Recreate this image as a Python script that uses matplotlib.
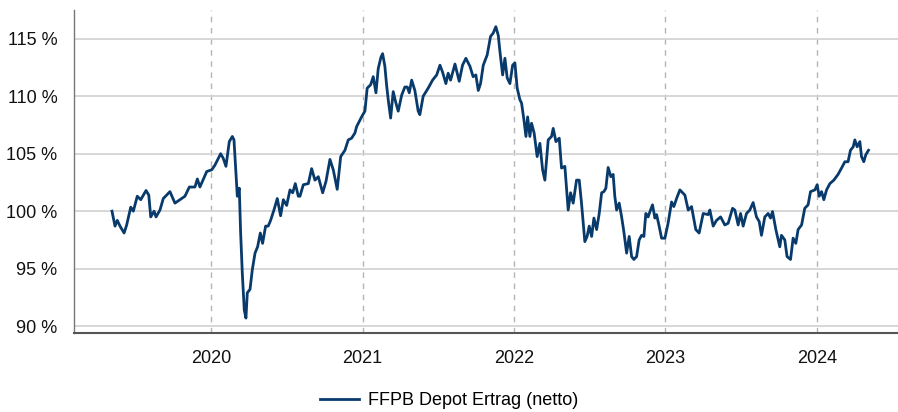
import matplotlib
matplotlib.use("Agg")
import matplotlib.pyplot as plt
import numpy as np

# Zeitachse in Dezimaljahren, Werte in %
years = [
    2019.344, 2019.364, 2019.379, 2019.397, 2019.424, 2019.441, 2019.468, 2019.485,
    2019.511, 2019.534, 2019.569, 2019.587, 2019.600, 2019.622, 2019.635, 2019.661,
    2019.683, 2019.727, 2019.760, 2019.793, 2019.826, 2019.855, 2019.892, 2019.908,
    2019.925, 2019.970, 2020.003, 2020.024, 2020.062, 2020.079, 2020.097, 2020.119,
    2020.139, 2020.150, 2020.172, 2020.185, 2020.194, 2020.205, 2020.218, 2020.229,
    2020.238, 2020.256, 2020.271, 2020.289, 2020.306, 2020.324, 2020.339, 2020.359,
    2020.376, 2020.392, 2020.414, 2020.436, 2020.458, 2020.476, 2020.498, 2020.520,
    2020.538, 2020.555, 2020.575, 2020.586, 2020.608, 2020.641, 2020.663, 2020.685,
    2020.707, 2020.736, 2020.758, 2020.784, 2020.806, 2020.832, 2020.855, 2020.883,
    2020.905, 2020.927, 2020.949, 2020.960, 2020.993, 2021.015, 2021.030, 2021.053,
    2021.070, 2021.088, 2021.103, 2021.121, 2021.132, 2021.147, 2021.158, 2021.169,
    2021.185, 2021.202, 2021.220, 2021.235, 2021.258, 2021.279, 2021.295, 2021.308,
    2021.324, 2021.345, 2021.367, 2021.378, 2021.400, 2021.433, 2021.462, 2021.489,
    2021.511, 2021.528, 2021.550, 2021.565, 2021.581, 2021.610, 2021.638, 2021.660,
    2021.682, 2021.709, 2021.730, 2021.748, 2021.764, 2021.779, 2021.797, 2021.823,
    2021.845, 2021.863, 2021.880, 2021.896, 2021.907, 2021.925, 2021.940, 2021.955,
    2021.973, 2021.991, 2022.006, 2022.021, 2022.039, 2022.050, 2022.065, 2022.079,
    2022.090, 2022.105, 2022.116, 2022.133, 2022.153, 2022.171, 2022.189, 2022.204,
    2022.226, 2022.248, 2022.259, 2022.277, 2022.299, 2022.314, 2022.336, 2022.358,
    2022.374, 2022.391, 2022.413, 2022.431, 2022.446, 2022.468, 2022.483, 2022.497,
    2022.513, 2022.528, 2022.546, 2022.563, 2022.579, 2022.594, 2022.607, 2022.622,
    2022.640, 2022.655, 2022.666, 2022.678, 2022.695, 2022.711, 2022.726, 2022.744,
    2022.761, 2022.777, 2022.792, 2022.810, 2022.827, 2022.843, 2022.858, 2022.871,
    2022.886, 2022.902, 2022.915, 2022.931, 2022.942, 2022.959, 2022.975, 2022.997,
    2023.018, 2023.041, 2023.056, 2023.074, 2023.096, 2023.129, 2023.151, 2023.173,
    2023.201, 2023.223, 2023.250, 2023.283, 2023.294, 2023.316, 2023.338, 2023.365,
    2023.393, 2023.415, 2023.444, 2023.459, 2023.481, 2023.497, 2023.514, 2023.536,
    2023.558, 2023.580, 2023.602, 2023.620, 2023.635, 2023.657, 2023.679, 2023.695,
    2023.708, 2023.730, 2023.756, 2023.767, 2023.789, 2023.804, 2023.827, 2023.844,
    2023.862, 2023.877, 2023.900, 2023.921, 2023.943, 2023.959, 2023.988, 2024.003,
    2024.016, 2024.032, 2024.047, 2024.065, 2024.087, 2024.113, 2024.141, 2024.164,
    2024.186, 2024.207, 2024.223, 2024.241, 2024.252, 2024.267, 2024.285, 2024.296,
    2024.311, 2024.324, 2024.342,
]
values = [
    100.0, 98.7, 99.2, 98.7, 98.1, 98.8, 100.35, 100.0,
    101.3, 101.0, 101.8, 101.4, 99.5, 100.0, 99.5, 100.1,
    101.1, 101.7, 100.7, 101.0, 101.3, 102.1, 102.1, 102.8,
    102.1, 103.45, 103.6, 104.0, 105.0, 104.6, 103.9, 106.05,
    106.5, 106.2, 101.3, 102.0, 98.1, 94.6, 91.4, 90.7,
    92.9, 93.2, 94.9, 96.35, 96.9, 98.1, 97.2, 98.7,
    98.7, 99.2, 100.1, 101.1, 99.6, 101.0, 100.5, 101.85,
    101.6, 102.4, 101.3, 101.3, 102.3, 102.4, 103.7, 102.7,
    103.0, 101.6, 102.6, 104.5, 103.6, 101.9, 104.75, 105.3,
    106.2, 106.35, 106.8, 107.35, 108.2, 108.7, 110.7, 111.0,
    111.7, 110.3, 112.4, 113.4, 113.7, 112.6, 111.0, 109.7,
    108.1, 110.4, 109.4, 108.7, 110.1, 110.8, 110.8, 110.3,
    111.4, 110.5, 108.7, 108.4, 110.0, 110.7, 111.4, 111.85,
    112.7, 112.1, 111.1, 112.0, 111.4, 112.8, 111.3, 112.7,
    113.3, 112.6, 111.7, 111.85, 110.5, 111.1, 112.7, 113.6,
    115.2, 115.5, 116.05, 115.3, 113.9, 111.85, 113.3, 111.6,
    111.1, 112.7, 112.9, 110.7, 109.7, 109.4, 108.0, 106.5,
    108.2, 106.5, 107.65, 106.8, 104.75, 105.9, 103.6, 102.7,
    106.2, 106.5, 107.2, 106.05, 106.35, 103.75, 103.9, 100.1,
    101.6, 100.7, 102.7, 102.7, 100.7, 97.35, 97.8, 98.7,
    97.8, 99.4, 98.4, 99.8, 101.6, 101.7, 102.0, 103.8,
    103.0, 103.2, 101.3, 100.1, 100.7, 99.5, 98.2, 96.35,
    97.8, 96.05, 95.8, 96.05, 97.5, 97.9, 97.8, 99.8,
    99.5, 100.1, 100.55, 99.4, 99.7, 98.7, 97.65, 97.65,
    98.95, 100.8, 100.4, 101.1, 101.85, 101.4, 100.1, 100.4,
    98.4, 98.1, 99.8, 99.7, 100.1, 98.7, 99.2, 99.5,
    98.8, 98.95, 100.25, 100.1, 98.8, 99.8, 98.7, 99.8,
    100.1, 100.75, 99.5, 99.1, 97.9, 99.5, 99.8, 99.4,
    99.97, 98.4, 96.9, 97.9, 97.5, 96.05, 95.8, 97.65,
    97.2, 98.4, 98.8, 100.25, 100.55, 101.7, 101.85, 102.3,
    101.3, 101.7, 101.0, 101.85, 102.4, 102.7, 103.2, 103.75,
    104.3, 104.3, 105.3, 105.6, 106.2, 105.6, 106.05, 104.75,
    104.3, 104.9, 105.3,
]

year_ticks = [2020, 2021, 2022, 2023, 2024]
pct_ticks = [90, 95, 100, 105, 110, 115]
series_name = "FFPB Depot Ertrag (netto)"

plt.rcParams["font.family"] = ["Liberation Sans", "DejaVu Sans"]

fig = plt.figure(figsize=(8.98, 4.12), dpi=100)
ax = fig.add_axes([0.0824, 0.1917, 0.9176, 0.784])

ax.plot(years, values, color="#083a6b", lw=2.0, label=series_name, zorder=3)

ax.set_xlim(2019.093, 2024.537)
ax.set_ylim(89.4, 117.5)

ax.set_xticks(year_ticks)
ax.set_xticklabels([str(y) for y in year_ticks])
ax.set_yticks(pct_ticks)
ax.set_yticklabels([f"{p} %" for p in pct_ticks])

ax.tick_params(axis="both", length=0, labelsize=13, colors="#111111")
ax.tick_params(axis="y", pad=12)
ax.tick_params(axis="x", pad=12)

ax.grid(axis="y", color="#d4d4d4", lw=1.3, ls="-")
ax.grid(axis="x", color="#b4b4b4", lw=1.0, ls=(0, (4, 4)))
ax.set_axisbelow(True)

for side in ["top", "right"]:
    ax.spines[side].set_visible(False)
ax.spines["left"].set_color("#777777")
ax.spines["left"].set_linewidth(1.0)
ax.spines["bottom"].set_color("#555555")
ax.spines["bottom"].set_linewidth(1.5)

fig.legend(loc="center", bbox_to_anchor=(0.5, 0.027), frameon=False,
           fontsize=13, handlelength=2.2, handletextpad=0.5)

fig.savefig("out.png", dpi=100)
